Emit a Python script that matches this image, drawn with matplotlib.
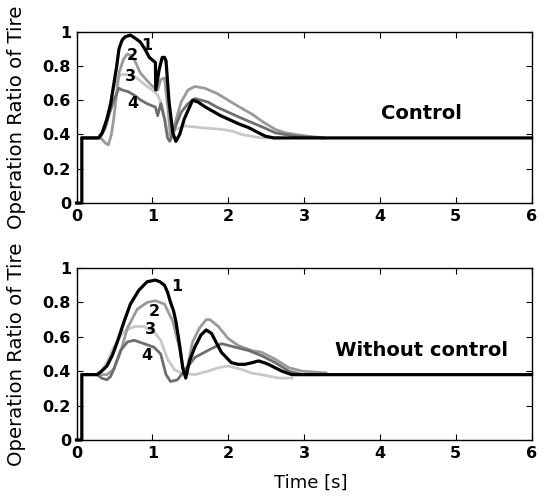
import matplotlib
matplotlib.use("Agg")
import matplotlib.pyplot as plt

# ---------------- data: top panel (Control) ----------------
c1_t = [0, 0.07, 0.07, 0.29, 0.34, 0.40, 0.45, 0.49, 0.53, 0.56, 0.60, 0.64, 0.71, 0.78, 0.84, 0.90, 0.96,
        1.04, 1.045, 1.09, 1.13, 1.16, 1.18, 1.22, 1.27, 1.31, 1.36, 1.42, 1.48, 1.53, 1.60, 1.70, 1.78,
        1.90, 2.00, 2.15, 2.27, 2.40, 2.49, 2.60, 2.71, 6.0]
c1_y = [0, 0, 0.38, 0.38, 0.41, 0.49, 0.58, 0.69, 0.80, 0.90, 0.95, 0.97, 0.98, 0.96, 0.94, 0.90, 0.85,
        0.82, 0.66, 0.78, 0.85, 0.85, 0.83, 0.59, 0.41, 0.36, 0.40, 0.49, 0.55, 0.60, 0.59, 0.56, 0.54,
        0.51, 0.49, 0.46, 0.44, 0.41, 0.39, 0.38, 0.38, 0.38]

c2_t = [0.07, 0.32, 0.38, 0.42, 0.46, 0.49, 0.53, 0.56, 0.62, 0.67, 0.73, 0.78, 0.84, 0.92, 0.98, 1.07,
        1.11, 1.16, 1.20, 1.24, 1.29, 1.34, 1.38, 1.47, 1.56, 1.69, 1.85, 2.00, 2.15, 2.31, 2.47, 2.62,
        2.75, 2.89, 3.05, 3.27]
c2_y = [0.38, 0.38, 0.35, 0.34, 0.40, 0.49, 0.64, 0.76, 0.84, 0.87, 0.86, 0.82, 0.76, 0.72, 0.69, 0.66,
        0.72, 0.73, 0.57, 0.39, 0.45, 0.53, 0.59, 0.66, 0.68, 0.67, 0.64, 0.60, 0.56, 0.52, 0.47, 0.43,
        0.41, 0.40, 0.39, 0.38]

c3_t = [0.07, 0.29, 0.34, 0.40, 0.45, 0.49, 0.54, 0.58, 0.67, 0.76, 0.85, 0.93, 1.00, 1.07, 1.13, 1.17,
        1.20, 1.24, 1.31, 1.42, 1.64, 1.91, 2.05, 2.18, 2.30, 2.44, 2.67]
c3_y = [0.38, 0.38, 0.42, 0.49, 0.58, 0.67, 0.72, 0.75, 0.75, 0.74, 0.71, 0.68, 0.66, 0.63, 0.57, 0.48,
        0.41, 0.39, 0.43, 0.45, 0.44, 0.43, 0.42, 0.40, 0.39, 0.38, 0.38]

c4_t = [0.07, 0.31, 0.38, 0.44, 0.50, 0.56, 0.60, 0.68, 0.76, 0.85, 0.93, 1.04, 1.07, 1.11, 1.16, 1.20,
        1.23, 1.29, 1.38, 1.47, 1.56, 1.73, 1.85, 2.00, 2.15, 2.31, 2.47, 2.62, 2.75, 2.89, 3.05, 3.25]
c4_y = [0.38, 0.38, 0.44, 0.53, 0.61, 0.67, 0.66, 0.65, 0.63, 0.60, 0.58, 0.56, 0.51, 0.58, 0.49, 0.38,
        0.36, 0.43, 0.53, 0.58, 0.61, 0.59, 0.56, 0.53, 0.50, 0.47, 0.44, 0.41, 0.40, 0.39, 0.385, 0.38]

# ---------------- data: bottom panel (Without control) ----------------
b1_t = [0, 0.07, 0.07, 0.27, 0.33, 0.40, 0.47, 0.53, 0.62, 0.71, 0.82, 0.93, 1.04, 1.10, 1.16, 1.20,
        1.24, 1.28, 1.31, 1.36, 1.40, 1.44, 1.49, 1.56, 1.64, 1.71, 1.78, 1.85, 1.91, 2.04, 2.13, 2.22,
        2.32, 2.40, 2.47, 2.53, 2.62, 2.71, 2.84, 6.0]
b1_y = [0, 0, 0.38, 0.38, 0.40, 0.43, 0.49, 0.56, 0.68, 0.79, 0.87, 0.92, 0.93, 0.92, 0.90, 0.86,
        0.80, 0.75, 0.69, 0.55, 0.42, 0.36, 0.46, 0.54, 0.61, 0.64, 0.62, 0.56, 0.51, 0.45, 0.44, 0.44,
        0.45, 0.46, 0.45, 0.44, 0.42, 0.40, 0.38, 0.38]

b2_t = [0.07, 0.27, 0.40, 0.49, 0.58, 0.67, 0.80, 0.93, 1.04, 1.16, 1.27, 1.36, 1.42, 1.47, 1.53, 1.62,
        1.71, 1.76, 1.87, 2.00, 2.13, 2.31, 2.44, 2.53, 2.62, 2.80, 2.98, 3.29]
b2_y = [0.38, 0.38, 0.38, 0.41, 0.51, 0.65, 0.76, 0.80, 0.81, 0.79, 0.69, 0.53, 0.39, 0.44, 0.57, 0.65,
        0.70, 0.70, 0.66, 0.59, 0.55, 0.52, 0.51, 0.49, 0.47, 0.42, 0.40, 0.39]

b3_t = [0.07, 0.29, 0.34, 0.40, 0.49, 0.62, 0.76, 0.89, 1.02, 1.11, 1.20, 1.29, 1.38, 1.56, 1.73, 1.87,
        2.00, 2.18, 2.30, 2.44, 2.67, 2.84]
b3_y = [0.38, 0.38, 0.41, 0.45, 0.54, 0.63, 0.66, 0.66, 0.63, 0.58, 0.47, 0.41, 0.39, 0.38, 0.40, 0.42,
        0.43, 0.41, 0.39, 0.38, 0.36, 0.36]

b4_t = [0.07, 0.27, 0.33, 0.40, 0.45, 0.49, 0.58, 0.67, 0.76, 0.89, 1.02, 1.11, 1.18, 1.24, 1.33, 1.42,
        1.56, 1.73, 1.91, 2.09, 2.27, 2.44, 2.62, 2.80, 2.98, 3.25]
b4_y = [0.38, 0.38, 0.36, 0.35, 0.37, 0.41, 0.52, 0.57, 0.58, 0.56, 0.54, 0.50, 0.38, 0.34, 0.35, 0.40,
        0.48, 0.52, 0.56, 0.54, 0.52, 0.49, 0.45, 0.40, 0.38, 0.38]

# curve-number labels
curve_lbl = ["1", "2", "3", "4"]
top_lbl_x = [0.93, 0.74, 0.71, 0.74]
top_lbl_y = [0.92, 0.86, 0.74, 0.58]
bot_lbl_x = [1.32, 1.03, 0.98, 0.93]
bot_lbl_y = [0.89, 0.75, 0.64, 0.49]

xticks = [0, 1, 2, 3, 4, 5, 6]
yticks = [0, 0.2, 0.4, 0.6, 0.8, 1.0]
yticklabels = ["0", "0.2", "0.4", "0.6", "0.8", "1"]

col1, col2, col3, col4 = "#000000", "#9a9a9a", "#c8c8c8", "#6e6e6e"

fig = plt.figure(figsize=(5.45, 4.97), dpi=100)
ax1 = fig.add_axes([0.1404, 0.5915, 0.835, 0.3447])
ax2 = fig.add_axes([0.1404, 0.1147, 0.835, 0.346])

panels = [
    (ax1, [(c3_t, c3_y, col3), (c2_t, c2_y, col2), (c4_t, c4_y, col4), (c1_t, c1_y, col1)],
     top_lbl_x, top_lbl_y, "Control"),
    (ax2, [(b3_t, b3_y, col3), (b2_t, b2_y, col2), (b4_t, b4_y, col4), (b1_t, b1_y, col1)],
     bot_lbl_x, bot_lbl_y, "Without control"),
]

for ax, curves, lx, ly, title in panels:
    for t, y, c in curves:
        ax.plot(t, y, color=c, lw=2.0 if c != col1 else 2.3, solid_joinstyle="round", clip_on=False)
    for s, x, y in zip(curve_lbl, lx, ly):
        ax.text(x, y, s, ha="center", va="center", fontsize=11.5, fontweight="semibold")
    ax.text(4.55, 0.52, title, ha="center", va="center", fontsize=14, fontweight="bold")
    ax.set_xlim(0, 6)
    ax.set_ylim(0, 1)
    ax.set_xticks(xticks)
    ax.set_yticks(yticks)
    ax.set_yticklabels(yticklabels)
    ax.tick_params(direction="in", top=True, right=True, length=4, width=0.8,
                   labelsize=11.5, pad=4)
    for lab in ax.get_xticklabels() + ax.get_yticklabels():
        lab.set_fontweight("bold")
    for sp in ax.spines.values():
        sp.set_linewidth(1.0)
    ax.set_ylabel("Operation Ratio of Tire", fontsize=14.2)
    ax.yaxis.set_label_coords(-0.11, 0.5)

ax2.set_xlabel("Time [s]", fontsize=13, va="center")
ax2.xaxis.set_label_coords(0.515, -0.25)

fig.savefig("out.png", dpi=100)
